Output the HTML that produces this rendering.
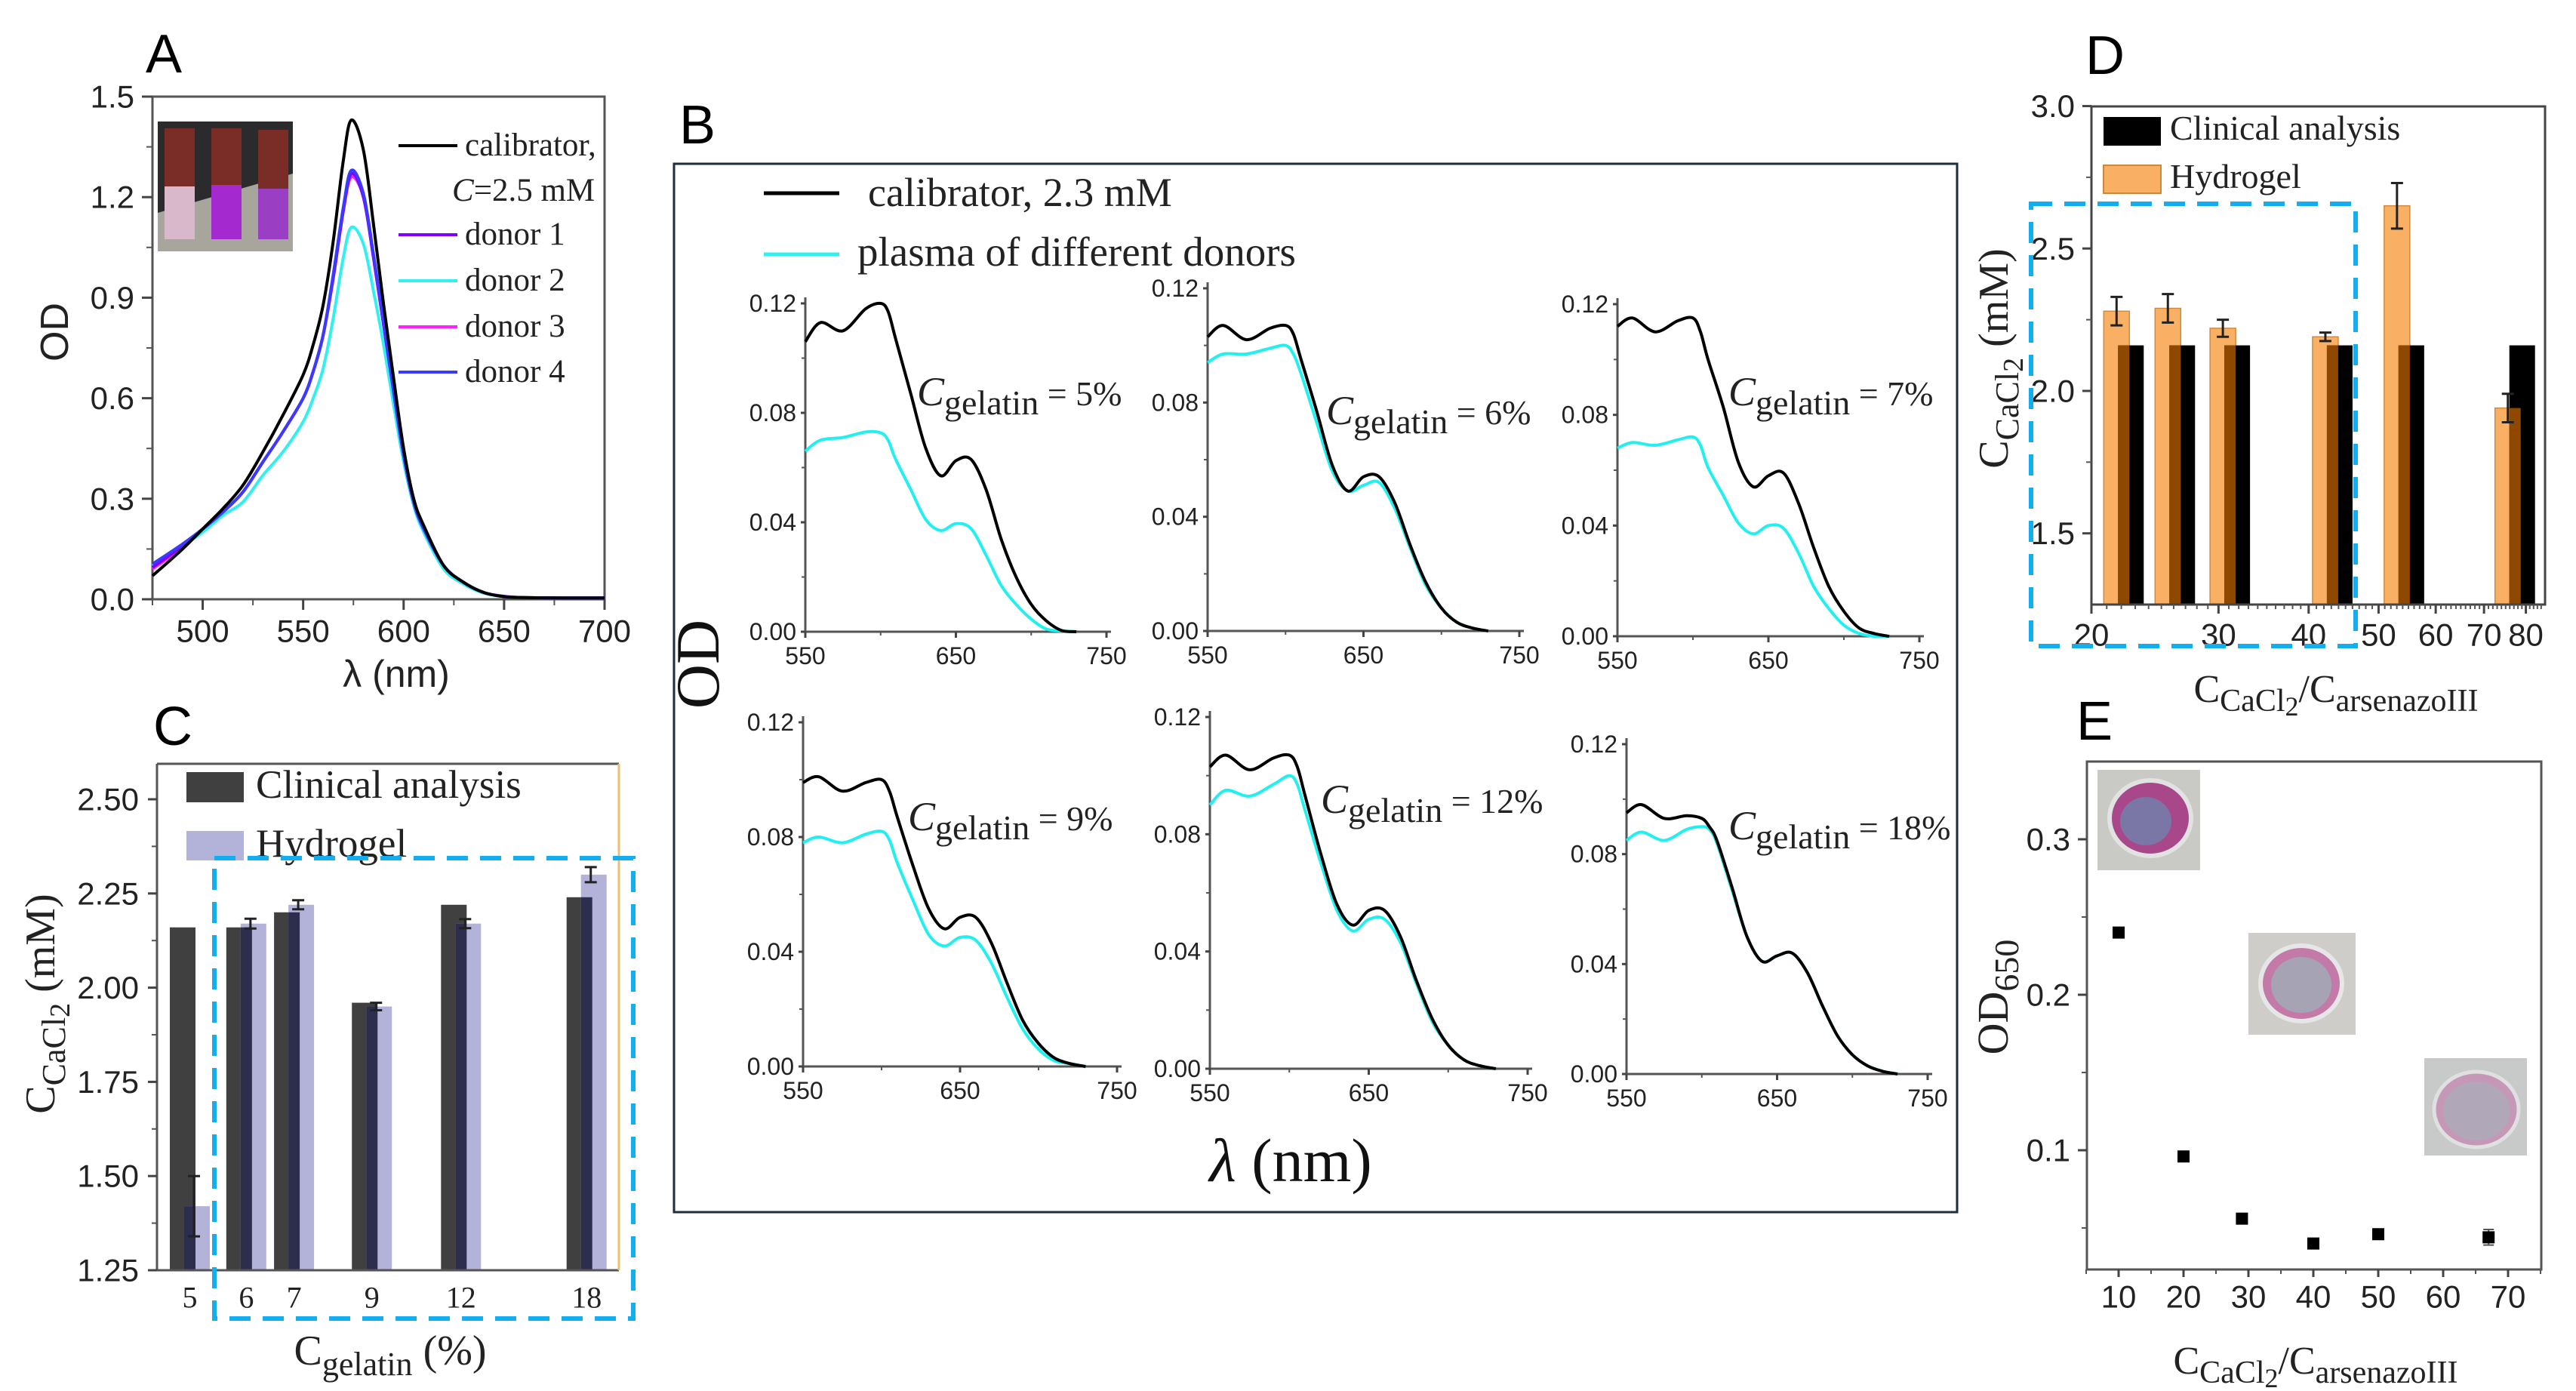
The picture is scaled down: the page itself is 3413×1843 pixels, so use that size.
<!DOCTYPE html>
<html><head><meta charset="utf-8"><style>
html,body{margin:0;padding:0;background:#fff;}
svg{display:block;}
.serif{font-family:"Liberation Serif",serif;}
.sans{font-family:"Liberation Sans",sans-serif;}
</style></head><body>
<svg id="chart" width="3413" height="1843" viewBox="0 0 3413 1843" xmlns="http://www.w3.org/2000/svg">
<rect x="0" y="0" width="3413" height="1843" fill="#fff"/>

<!-- Panel letters -->
<text x="193" y="96" class="sans" font-size="72">A</text>
<text x="900" y="190" class="sans" font-size="72">B</text>
<text x="203" y="987" class="sans" font-size="72">C</text>
<text x="2763" y="98" class="sans" font-size="72">D</text>
<text x="2751" y="980" class="sans" font-size="72">E</text>

<!-- Panel A static -->
<g>
  <g>
    <rect x="209" y="161" width="179" height="172" fill="#2b2b2e"/>
    <polygon points="209,282 388,230 388,333 209,333" fill="#a7a59c"/>
    <rect x="218" y="170" width="40" height="77" fill="#7a2c26"/>
    <rect x="218" y="247" width="40" height="70" fill="#d9b8cc"/>
    <rect x="280" y="170" width="40" height="75" fill="#7a2c26"/>
    <rect x="280" y="245" width="40" height="72" fill="#a42ad0"/>
    <rect x="342" y="172" width="40" height="78" fill="#7a2c26"/>
    <rect x="342" y="250" width="40" height="67" fill="#9a3ec4"/>
  </g>
  <g class="serif" font-size="43" fill="#222">
    <line x1="528" y1="193" x2="606" y2="193" stroke="#000" stroke-width="4"/>
    <text x="616" y="206">calibrator,</text>
    <text x="599" y="266"><tspan font-style="italic">C</tspan>=2.5 mM</text>
    <line x1="528" y1="311" x2="606" y2="311" stroke="#8000ff" stroke-width="4"/>
    <text x="616" y="324">donor 1</text>
    <line x1="528" y1="372" x2="606" y2="372" stroke="#33f0f0" stroke-width="4"/>
    <text x="616" y="385">donor 2</text>
    <line x1="528" y1="433" x2="606" y2="433" stroke="#ff22ff" stroke-width="4"/>
    <text x="616" y="446">donor 3</text>
    <line x1="528" y1="493" x2="606" y2="493" stroke="#3a3aff" stroke-width="4"/>
    <text x="616" y="506">donor 4</text>
  </g>
  <text x="525" y="910" text-anchor="middle" class="sans" font-size="50" fill="#222">λ (nm)</text>
  <text transform="translate(90,440) rotate(-90)" text-anchor="middle" class="sans" font-size="52" fill="#222">OD</text>
</g>

<!-- Panel B static -->
<g>
  <rect x="893" y="217" width="1700" height="1389" fill="none" stroke="#1e2e3a" stroke-width="3"/>
  <line x1="1012" y1="256" x2="1112" y2="256" stroke="#000" stroke-width="5"/>
  <text x="1150" y="273" class="serif" font-size="54" fill="#222">calibrator, 2.3 mM</text>
  <line x1="1012" y1="337" x2="1112" y2="337" stroke="#33f0f0" stroke-width="5"/>
  <text x="1136" y="352" class="serif" font-size="55" fill="#222">plasma of different donors</text>
  <text transform="translate(952,880) rotate(-90)" text-anchor="middle" class="serif" font-size="82" fill="#111">OD</text>
  <text x="1710" y="1565" text-anchor="middle" class="serif" font-size="82" fill="#111"><tspan font-style="italic">λ</tspan> (nm)</text>
</g>

<!-- Panel C static -->
<g>
  <rect x="247" y="1023" width="76" height="40" fill="#404040"/>
  <text x="339" y="1057" class="serif" font-size="53" fill="#222">Clinical analysis</text>
  <rect x="247" y="1101" width="76" height="39" fill="#b3b3d9"/>
  <text x="339" y="1135" class="serif" font-size="53" fill="#222">Hydrogel</text>
  <text x="517" y="1808" text-anchor="middle" class="serif" font-size="56" fill="#222">C<tspan font-size="44" dy="14">gelatin</tspan><tspan dy="-14"> (%)</tspan></text>
  <text transform="translate(72,1330) rotate(-90)" text-anchor="middle" class="serif" font-size="56" fill="#222">C<tspan font-size="44" dy="14">CaCl</tspan><tspan font-size="38" dy="6">2</tspan><tspan dy="-20"> (mM)</tspan></text>
</g>

<!-- Panel D static -->
<g>
  <rect x="2787" y="155" width="76" height="38" fill="#000"/>
  <text x="2875" y="185" class="serif" font-size="46" fill="#222">Clinical analysis</text>
  <rect x="2787" y="219" width="76" height="37" fill="#f9b064" stroke="#c98a40" stroke-width="2"/>
  <text x="2875" y="249" class="serif" font-size="46" fill="#222">Hydrogel</text>
  <text x="3095" y="930" text-anchor="middle" class="serif" font-size="52" fill="#222">C<tspan font-size="42" dy="12">CaCl</tspan><tspan font-size="36" dy="6">2</tspan><tspan dy="-18">/C</tspan><tspan font-size="42" dy="12">arsenazoIII</tspan></text>
  <text transform="translate(2660,475) rotate(-90)" text-anchor="middle" class="serif" font-size="56" fill="#222">C<tspan font-size="44" dy="14">CaCl</tspan><tspan font-size="38" dy="6">2</tspan><tspan dy="-20"> (mM)</tspan></text>
</g>

<!-- Panel E static -->
<g>
  <g>
    <rect x="2779" y="1020" width="136" height="133" fill="#c9c9c6"/>
    <ellipse cx="2849" cy="1084" rx="54" ry="50" fill="#a8488a" stroke="#e2e2e2" stroke-width="6"/>
    <ellipse cx="2843" cy="1088" rx="34" ry="32" fill="#7a76a6"/>
  </g>
  <g>
    <rect x="2979" y="1236" width="142" height="135" fill="#cfcdca"/>
    <ellipse cx="3049" cy="1303" rx="54" ry="50" fill="#c47aa8" stroke="#e6e6e6" stroke-width="6"/>
    <ellipse cx="3049" cy="1305" rx="40" ry="37" fill="#a6a4b4"/>
  </g>
  <g>
    <rect x="3212" y="1402" width="136" height="129" fill="#c8cac9"/>
    <ellipse cx="3281" cy="1470" rx="56" ry="50" fill="#c698b8" stroke="#e0e0e0" stroke-width="5"/>
    <ellipse cx="3281" cy="1472" rx="44" ry="39" fill="#b0a8b8"/>
  </g>
  <text x="3068" y="1820" text-anchor="middle" class="serif" font-size="52" fill="#222">C<tspan font-size="42" dy="12">CaCl</tspan><tspan font-size="36" dy="6">2</tspan><tspan dy="-18">/C</tspan><tspan font-size="42" dy="12">arsenazoIII</tspan></text>
  <text transform="translate(2660,1321) rotate(-90)" text-anchor="middle" class="serif" font-size="58" fill="#222">OD<tspan font-size="46" dy="14">650</tspan></text>
</g>
</svg>

<script>
// ---------- Panel A data ----------
const aWavelengths = [475,490,500,510,520,530,540,550,555,560,565,570,574,580,585,590,595,600,605,610,620,630,640,650,660,680,700];
const aCalibrator = [0.07,0.15,0.21,0.27,0.34,0.44,0.55,0.67,0.76,0.88,1.07,1.31,1.43,1.34,1.12,0.88,0.66,0.45,0.30,0.22,0.10,0.05,0.02,0.008,0.005,0.004,0.004];
const aDonor1 = [0.095,0.16,0.21,0.26,0.32,0.41,0.50,0.60,0.68,0.79,0.96,1.16,1.27,1.20,1.02,0.82,0.62,0.43,0.29,0.21,0.10,0.05,0.02,0.008,0.005,0.004,0.004];
const aDonor2 = [0.10,0.16,0.20,0.25,0.29,0.37,0.44,0.53,0.60,0.69,0.84,1.02,1.11,1.06,0.92,0.76,0.58,0.41,0.28,0.20,0.09,0.045,0.018,0.008,0.005,0.004,0.004];
const aDonor3 = [0.09,0.155,0.21,0.26,0.32,0.41,0.50,0.60,0.68,0.79,0.96,1.16,1.26,1.20,1.02,0.82,0.62,0.43,0.29,0.21,0.10,0.05,0.02,0.009,0.005,0.004,0.004];
const aDonor4 = [0.105,0.165,0.21,0.26,0.32,0.41,0.50,0.60,0.68,0.79,0.97,1.17,1.28,1.21,1.03,0.83,0.62,0.43,0.29,0.21,0.10,0.05,0.02,0.008,0.005,0.004,0.004];
const aXTicks = [500,550,600,650,700];
const aXTickLabels = ['500','550','600','650','700'];
const aYTicks = [0,0.3,0.6,0.9,1.2,1.5];
const aYTickLabels = ['0.0','0.3','0.6','0.9','1.2','1.5'];

// ---------- Panel B data ----------
const bWavelengths = [550,560,575,590,600,605,610,620,630,640,650,660,670,680,690,700,710,720,730];
const bCalibrator5 = [0.106,0.113,0.110,0.118,0.120,0.117,0.107,0.087,0.067,0.057,0.0625,0.063,0.052,0.034,0.020,0.010,0.004,0.0005,0];
const bPlasma5 = [0.066,0.070,0.071,0.073,0.0727,0.070,0.063,0.052,0.041,0.037,0.0395,0.0377,0.028,0.017,0.010,0.0046,0.001,0.0003,0];
const bCalibrator6 = [0.103,0.107,0.102,0.106,0.107,0.104,0.095,0.077,0.058,0.049,0.054,0.054,0.045,0.030,0.017,0.008,0.003,0.001,0];
const bPlasma6 = [0.094,0.097,0.097,0.099,0.100,0.097,0.090,0.073,0.056,0.049,0.051,0.052,0.043,0.029,0.016,0.008,0.003,0.001,0];
const bCalibrator7 = [0.112,0.115,0.110,0.114,0.115,0.110,0.100,0.083,0.063,0.054,0.058,0.059,0.048,0.032,0.018,0.009,0.003,0.001,0];
const bPlasma7 = [0.068,0.070,0.069,0.071,0.072,0.069,0.061,0.051,0.041,0.037,0.040,0.039,0.030,0.018,0.010,0.004,0.001,0,0];
const bCalibrator9 = [0.099,0.101,0.096,0.099,0.100,0.096,0.087,0.070,0.055,0.048,0.052,0.052,0.043,0.029,0.016,0.008,0.003,0.001,0];
const bPlasma9 = [0.078,0.080,0.078,0.081,0.082,0.079,0.071,0.058,0.046,0.042,0.045,0.044,0.036,0.024,0.013,0.006,0.002,0.001,0];
const bCalibrator12 = [0.103,0.107,0.102,0.106,0.107,0.103,0.093,0.073,0.056,0.049,0.054,0.054,0.045,0.030,0.017,0.008,0.003,0.001,0];
const bPlasma12 = [0.090,0.095,0.093,0.097,0.100,0.097,0.088,0.070,0.054,0.047,0.051,0.051,0.043,0.029,0.016,0.008,0.003,0.001,0];
const bCalibrator18 = [0.095,0.098,0.093,0.094,0.093,0.090,0.085,0.068,0.050,0.041,0.043,0.044,0.037,0.025,0.014,0.007,0.003,0.001,0];
const bPlasma18 = [0.085,0.088,0.085,0.089,0.090,0.089,0.084,0.067,0.050,0.041,0.043,0.044,0.037,0.025,0.014,0.007,0.003,0.001,0];
const bGelatinLabels = ['5%','6%','7%','9%','12%','18%'];
const bXTicks = [550,650,750];
const bXTickLabels = ['550','650','750'];
const bYTicks = [0,0.04,0.08,0.12];
const bYTickLabels = ['0.00','0.04','0.08','0.12'];

// ---------- Panel C data ----------
const cGelatin = [5,6,7,9,12,18];
const cGelatinLabels = ['5','6','7','9','12','18'];
const cClinical = [2.16,2.16,2.20,1.96,2.22,2.24];
const cHydrogel = [1.42,2.17,2.22,1.95,2.17,2.30];
const cHydrogelErr = [0.08,0.013,0.012,0.01,0.012,0.02];
const cYTicks = [1.25,1.5,1.75,2.0,2.25,2.5];
const cYTickLabels = ['1.25','1.50','1.75','2.00','2.25','2.50'];

// ---------- Panel D data ----------
const dRatios = [20.8,24.5,29.2,40.5,50.9,72.5];
const dHydrogel = [2.28,2.29,2.22,2.19,2.65,1.94];
const dHydrogelErr = [0.05,0.05,0.03,0.015,0.08,0.05];
const dClinical = [2.16,2.16,2.16,2.16,2.16,2.16];
const dXTicks = [20,30,40,50,60,70,80];
const dXTickLabels = ['20','30','40','50','60','70','80'];
const dYTicks = [1.5,2.0,2.5,3.0];
const dYTickLabels = ['1.5','2.0','2.5','3.0'];

// ---------- Panel E data ----------
const eRatios = [10,20,29,40,50,67];
const eOD = [0.24,0.096,0.056,0.040,0.046,0.044];
const eErr = [0,0,0,0,0,0.005];
const eXTicks = [10,20,30,40,50,60,70];
const eXTickLabels = ['10','20','30','40','50','60','70'];
const eYTicks = [0.1,0.2,0.3];
const eYTickLabels = ['0.1','0.2','0.3'];

const NS = 'http://www.w3.org/2000/svg';
const root = document.getElementById('chart');
function mk(tag, attrs, parent) {
  const el = document.createElementNS(NS, tag);
  for (const k in attrs) el.setAttribute(k, attrs[k]);
  (parent || root).appendChild(el);
  return el;
}
function smoothPath(pts) {
  let d = 'M' + pts[0][0].toFixed(1) + ',' + pts[0][1].toFixed(1);
  for (let i = 0; i < pts.length - 1; i++) {
    const p0 = pts[Math.max(0, i - 1)], p1 = pts[i], p2 = pts[i + 1], p3 = pts[Math.min(pts.length - 1, i + 2)];
    const c1x = p1[0] + (p2[0] - p0[0]) / 6, c1y = p1[1] + (p2[1] - p0[1]) / 6;
    const c2x = p2[0] - (p3[0] - p1[0]) / 6, c2y = p2[1] - (p3[1] - p1[1]) / 6;
    d += ' C' + c1x.toFixed(1) + ',' + c1y.toFixed(1) + ' ' + c2x.toFixed(1) + ',' + c2y.toFixed(1) + ' ' + p2[0].toFixed(1) + ',' + p2[1].toFixed(1);
  }
  return d;
}
function yAxisTicks(prefix, ticks, labels, scale, ax, len, fsz, gap, cls) {
  ticks.forEach((v, i) => {
    const t = mk('line', {x1: ax - len, y1: scale(v), x2: ax, y2: scale(v), stroke: '#444', 'stroke-width': 3});
    
    
    const lb = mk('text', {x: ax - len - gap, y: scale(v), 'text-anchor': 'end', 'dominant-baseline': 'central', 'font-size': fsz, fill: '#222', class: cls});
    lb.textContent = labels[i];
    
    
  });
}
function xAxisTicks(prefix, ticks, labels, scale, ay, len, fsz, gap, cls) {
  ticks.forEach((v, i) => {
    if (len > 0) {
      const t = mk('line', {x1: scale(v), y1: ay, x2: scale(v), y2: ay + len, stroke: '#444', 'stroke-width': 3});
      
      
    }
    const lb = mk('text', {x: scale(v), y: ay + len + gap, 'text-anchor': 'middle', 'dominant-baseline': 'central', 'font-size': fsz, fill: '#222', class: cls});
    lb.textContent = labels[i];
    
    
  });
}
function minorTicks(prefix, vals, scale, pos, len, horizontal) {
  vals.forEach((v, i) => {
    const a = horizontal ? {x1: scale(v), y1: pos, x2: scale(v), y2: pos + len} : {x1: pos - len, y1: scale(v), x2: pos, y2: scale(v)};
    a.stroke = '#555'; a['stroke-width'] = 2;
    const t = mk('line', a);
    
    
  });
}

// ================= Panel A =================
(function () {
  const L = 202, R = 801, T = 128, B = 794;
  const xA = v => L + (v - 475) * (R - L) / 225;
  const yA = v => B - v * (B - T) / 1.5;
  const frame = mk('rect', {x: L, y: T, width: R - L, height: B - T, fill: 'none', stroke: '#555', 'stroke-width': 3});
  
  
  yAxisTicks('a', aYTicks, aYTickLabels, yA, L, 14, 42, 10, 'sans');
  xAxisTicks('a', aXTicks, aXTickLabels, xA, B, 14, 42, 28, 'sans');
  minorTicks('a-y', [0.15,0.45,0.75,1.05,1.35], yA, L, 8, false);
  minorTicks('a-x', [475,525,575,625,675], xA, B, 8, true);
  const series = [[aDonor2,'#33f0f0','donor-2'],[aDonor3,'#ff22ff','donor-3'],[aDonor1,'#8000ff','donor-1'],[aDonor4,'#3a3aff','donor-4'],[aCalibrator,'#000','calibrator']];
  series.forEach(s => {
    const pts = aWavelengths.map((w, i) => [xA(w), yA(s[0][i])]);
    const p = mk('path', {d: smoothPath(pts), fill: 'none', stroke: s[1], 'stroke-width': 4});
    
    
  });
})();

// ================= Panel B =================
(function () {
  const frames = [
    {x0:1067,x1:1466,y0:402,y1:837,tx:1215,ty:537},
    {x0:1600,x1:2013,y0:382,y1:836,tx:1757,ty:562},
    {x0:2143,x1:2543,y0:403,y1:843,tx:2290,ty:537},
    {x0:1064,x1:1480,y0:957,y1:1413,tx:1203,ty:1100},
    {x0:1603,x1:2024,y0:950,y1:1416,tx:1750,ty:1077},
    {x0:2155,x1:2554,y0:986,y1:1423,tx:2290,ty:1112}
  ];
  const cal = [bCalibrator5,bCalibrator6,bCalibrator7,bCalibrator9,bCalibrator12,bCalibrator18];
  const pla = [bPlasma5,bPlasma6,bPlasma7,bPlasma9,bPlasma12,bPlasma18];
  frames.forEach((f, k) => {
    const xs = v => f.x0 + (v - 550) * (f.x1 - f.x0) / 200;
    const ys = v => f.y1 - v * (f.y1 - f.y0) / 0.12;
    const pre = 'b' + (k + 1);
    const ya = mk('line', {x1: f.x0, y1: f.y0 - 8, x2: f.x0, y2: f.y1, stroke: '#555', 'stroke-width': 3});
    
    
    const xa = mk('line', {x1: f.x0, y1: f.y1, x2: f.x1 + 6, y2: f.y1, stroke: '#555', 'stroke-width': 3});
    
    
    yAxisTicks(pre, bYTicks, bYTickLabels, ys, f.x0, 6, 32, 6, 'sans');
    xAxisTicks(pre, bXTicks, bXTickLabels, xs, f.y1, 8, 32, 24, 'sans');
    minorTicks(pre + '-y', [0.02,0.06,0.10], ys, f.x0, 5, false);
    minorTicks(pre + '-x', [600,700], xs, f.y1, 5, true);
    const pp = mk('path', {d: smoothPath(bWavelengths.map((w, i) => [xs(w), ys(pla[k][i])])), fill: 'none', stroke: '#22f0f0', 'stroke-width': 4});
    
    
    const cp = mk('path', {d: smoothPath(bWavelengths.map((w, i) => [xs(w), ys(cal[k][i])])), fill: 'none', stroke: '#000', 'stroke-width': 4});
    
    
    const ann = mk('text', {x: f.tx, y: f.ty, class: 'serif', fill: '#222', 'font-size': 54});
    ann.innerHTML = '<tspan font-style="italic">C</tspan><tspan font-size="46" dy="12">gelatin</tspan><tspan font-size="46" dy="-12"> = ' + bGelatinLabels[k] + '</tspan>';
    
    
  });
})();

// ================= Panel C =================
(function () {
  const L = 208, R = 820, T = 1012, B = 1683;
  const xC = v => 225 + 945 * Math.log10(v / 5);
  const yC = v => B - (v - 1.25) * 124.8 / 0.25;
  const W = 34, OFF = 19;
  cGelatin.forEach((g, i) => {
    const x = xC(g);
    const cb = mk('rect', {x: x, y: yC(cClinical[i]), width: W, height: B - yC(cClinical[i]), fill: '#404040'});
    
    
    const hb = mk('rect', {x: x + OFF, y: yC(cHydrogel[i]), width: W, height: B - yC(cHydrogel[i]), fill: '#b3b3d9'});
    
    
    const top = Math.max(yC(cHydrogel[i]), yC(cClinical[i]));
    const ov = mk('rect', {x: x + OFF, y: top, width: W - OFF, height: B - top, fill: '#2d2d4d'});
    
    
    const cx = x + OFF + W / 2 - 4;
    const e1 = yC(cHydrogel[i] + cHydrogelErr[i]), e2 = yC(cHydrogel[i] - cHydrogelErr[i]);
    const eb = mk('path', {d: 'M' + cx + ',' + e1 + 'V' + e2 + 'M' + (cx - 8) + ',' + e1 + 'H' + (cx + 8) + 'M' + (cx - 8) + ',' + e2 + 'H' + (cx + 8), stroke: '#222', 'stroke-width': 3, fill: 'none'});
    
    
  });
  const fr = mk('path', {d: 'M' + L + ',' + T + 'H' + R + 'M' + L + ',' + T + 'V' + B + 'H' + R, fill: 'none', stroke: '#555', 'stroke-width': 3});
  
  
  const rr = mk('line', {x1: R, y1: T, x2: R, y2: B, stroke: '#e8c070', 'stroke-width': 3});
  
  
  yAxisTicks('c', cYTicks, cYTickLabels, yC, L, 12, 42, 12, 'sans');
  minorTicks('c-y', [1.375,1.625,1.875,2.125,2.375], yC, L, 7, false);
  xAxisTicks('c', cGelatin, cGelatinLabels, v => xC(v) + (W + OFF) / 2, B, 0, 40, 36, 'serif');
  const db = mk('rect', {x: 284, y: 1137, width: 555, height: 610, fill: 'none', stroke: '#12aef0', 'stroke-width': 6, 'stroke-dasharray': '28 16'});
  
  
})();

// ================= Panel D =================
(function () {
  const L = 2771, R = 3372, T = 141, B = 801;
  const xD = v => L + 956 * Math.log10(v / 20);
  const yD = v => B - (v - 1.25) * 377.4;
  const W = 34, OFF = 19;
  dRatios.forEach((r, i) => {
    const x = xD(r);
    const hb = mk('rect', {x: x, y: yD(dHydrogel[i]), width: W, height: B - yD(dHydrogel[i]), fill: '#f9b064', stroke: '#d08a40', 'stroke-width': 1.5});
    
    
    const cb = mk('rect', {x: x + OFF, y: yD(dClinical[i]), width: W, height: B - yD(dClinical[i]), fill: '#000'});
    
    
    const top = Math.max(yD(dHydrogel[i]), yD(dClinical[i]));
    const ov = mk('rect', {x: x + OFF, y: top, width: W - OFF, height: B - top, fill: '#8f4800'});
    
    
    const cx = x + W / 2;
    const e1 = yD(dHydrogel[i] + dHydrogelErr[i]), e2 = yD(dHydrogel[i] - dHydrogelErr[i]);
    const eb = mk('path', {d: 'M' + cx + ',' + e1 + 'V' + e2 + 'M' + (cx - 8) + ',' + e1 + 'H' + (cx + 8) + 'M' + (cx - 8) + ',' + e2 + 'H' + (cx + 8), stroke: '#222', 'stroke-width': 3, fill: 'none'});
    
    
  });
  const fr = mk('rect', {x: L, y: T, width: R - L, height: B - T, fill: 'none', stroke: '#444', 'stroke-width': 3});
  
  
  yAxisTicks('d', dYTicks, dYTickLabels, yD, L, 12, 42, 10, 'sans');
  minorTicks('d-y', [1.75,2.25,2.75], yD, L, 7, false);
  xAxisTicks('d', dXTicks, dXTickLabels, xD, B, 12, 42, 28, 'sans');
  const mins = [];
  for (let v = 21; v < 85; v++) if (v % 10 !== 0) mins.push(v);
  minorTicks('d-x', mins, xD, B, 6, true);
  const db = mk('rect', {x: 2691, y: 270, width: 430, height: 586, fill: 'none', stroke: '#12aef0', 'stroke-width': 6, 'stroke-dasharray': '28 16'});
  
  
})();

// ================= Panel E =================
(function () {
  const L = 2765, R = 3367, T = 1009, B = 1682;
  const xE = v => 2807 + (v - 10) * 8.6;
  const yE = v => 1524 - (v - 0.1) * 2060;
  const fr = mk('rect', {x: L, y: T, width: R - L, height: B - T, fill: 'none', stroke: '#555', 'stroke-width': 3});
  
  
  yAxisTicks('e', eYTicks, eYTickLabels, yE, L, 12, 42, 10, 'sans');
  minorTicks('e-y', [0.05,0.15,0.25], yE, L, 7, false);
  xAxisTicks('e', eXTicks, eXTickLabels, xE, B, 10, 42, 26, 'sans');
  minorTicks('e-x', [5,15,25,35,45,55,65,75], xE, B, 6, true);
  eRatios.forEach((r, i) => {
    if (eErr[i] > 0) {
      const cx = xE(r), e1 = yE(eOD[i] + eErr[i]), e2 = yE(eOD[i] - eErr[i]);
      const eb = mk('path', {d: 'M' + cx + ',' + e1 + 'V' + e2 + 'M' + (cx - 7) + ',' + e1 + 'H' + (cx + 7) + 'M' + (cx - 7) + ',' + e2 + 'H' + (cx + 7), stroke: '#555', 'stroke-width': 2, fill: 'none'});
      
      
    }
    const pt = mk('rect', {x: xE(r) - 8, y: yE(eOD[i]) - 8, width: 16, height: 16, fill: '#000'});
    
    
  });
})();
</script>
</body></html>
